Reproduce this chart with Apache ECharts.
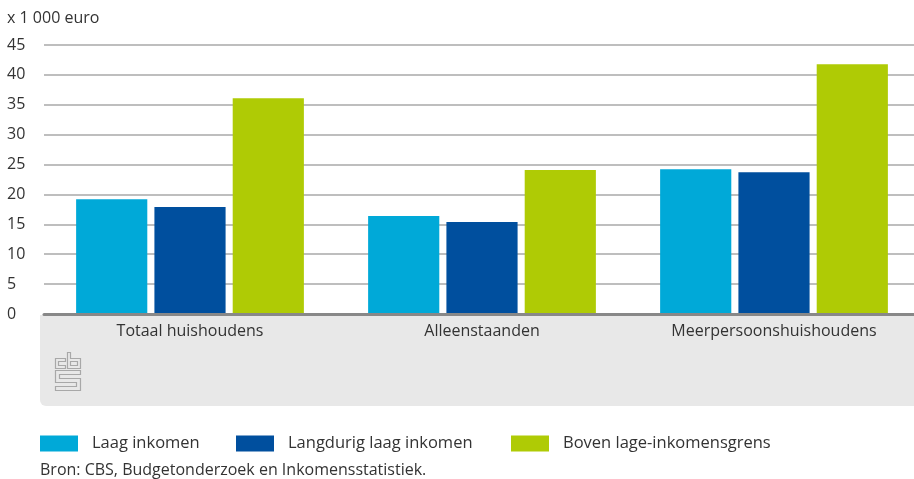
<!DOCTYPE html>
<html><head><meta charset="utf-8">
<script src="https://cdn.jsdelivr.net/npm/echarts@6/dist/echarts.min.js"></script>
<style>html,body{margin:0;padding:0;background:#fff}#c{width:914px;height:479px}</style>
</head><body><div id="c"></div>
<script>
const categories = ['Totaal huishoudens', 'Alleenstaanden', 'Meerpersoonshuishoudens'];
const seriesNames = ['Laag inkomen', 'Langdurig laag inkomen', 'Boven lage-inkomensgrens'];
const laagInkomen = [19.2, 16.4, 24.2];
const langdurigLaag = [17.9, 15.4, 23.7];
const bovenGrens = [36.1, 24.1, 41.8];
const yTicks = [0, 5, 10, 15, 20, 25, 30, 35, 40, 45];
const unitLabel = 'x 1 000 euro';
const sourceText = 'Bron: CBS, Budgetonderzoek en Inkomensstatistiek.';

const colors = ['#00a9d8', '#004f9e', '#afcb05'];
const FONT = 'Open Sans';
const chart = echarts.init(document.getElementById('c'), null, {renderer: 'canvas'});
const values = [laagInkomen, langdurigLaag, bovenGrens];
const legendLeft = [40, 236, 511];
const logoStyle = {stroke: '#a8a8a8', lineWidth: 1.2, fill: null};

chart.setOption({
  animation: false,
  textStyle: {fontFamily: FONT, color: '#333'},
  grid: {left: 44, top: 45, width: 876, height: 269, containLabel: false, outerBoundsMode: 'none'},
  xAxis: {
    type: 'category', data: categories,
    axisLine: {lineStyle: {color: '#888', width: 3}},
    axisTick: {show: false},
    axisLabel: {fontSize: 16, color: '#333', margin: 9, fontFamily: FONT},
    z: 5
  },
  yAxis: {
    type: 'value', min: yTicks[0], max: yTicks[yTicks.length - 1], interval: 5,
    name: unitLabel, nameLocation: 'end', nameGap: 19,
    nameTextStyle: {fontSize: 16, color: '#333', align: 'left', padding: [0, 0, 0, -37]},
    axisLine: {show: false}, axisTick: {show: false},
    axisLabel: {fontSize: 16, color: '#333', align: 'left', margin: 37},
    splitLine: {lineStyle: {color: '#a8a8a8', width: 1.5}}
  },
  legend: seriesNames.map((n, i) => ({
    data: [n], left: legendLeft[i], top: 435, itemWidth: 38, itemHeight: 16,
    icon: 'rect', padding: 0,
    textStyle: {fontSize: 16.5, color: '#333', fontFamily: FONT, padding: [0, 0, 0, 9]}
  })),
  series: seriesNames.map((n, i) => ({
    name: n, type: 'bar', data: values[i], barGap: '10%', barCategoryGap: '22%',
    itemStyle: {color: colors[i]}, z: 2
  })),
  graphic: [
    {type: 'rect', left: 40, top: 315, z: -10, silent: true,
     shape: {width: 874, height: 91, r: [0, 0, 0, 6]}, style: {fill: '#e8e8e8'}},
    {type: 'group', x: 55.5, y: 352.5, z: 10, silent: true, children: [
      {type: 'polygon', shape: {points: [[0,6],[10,6],[10,9],[3,9],[3,13],[10,13],[10,16],[0,16]]}, style: logoStyle},
      {type: 'polygon', shape: {points: [[12,0],[15,0],[15,6],[25,6],[25,16],[12,16]]}, style: logoStyle},
      {type: 'rect', shape: {x: 15, y: 9, width: 7, height: 4}, style: logoStyle},
      {type: 'polygon', shape: {points: [[0,18],[25,18],[25,22],[4,22],[4,26],[25,26],[25,38],[0,38],[0,34],[21,34],[21,30],[0,30]]}, style: logoStyle}
    ]},
    {type: 'text', left: 40, top: 462, style: {text: sourceText, fontSize: 16, fill: '#333', fontFamily: FONT}}
  ]
});
</script></body></html>
